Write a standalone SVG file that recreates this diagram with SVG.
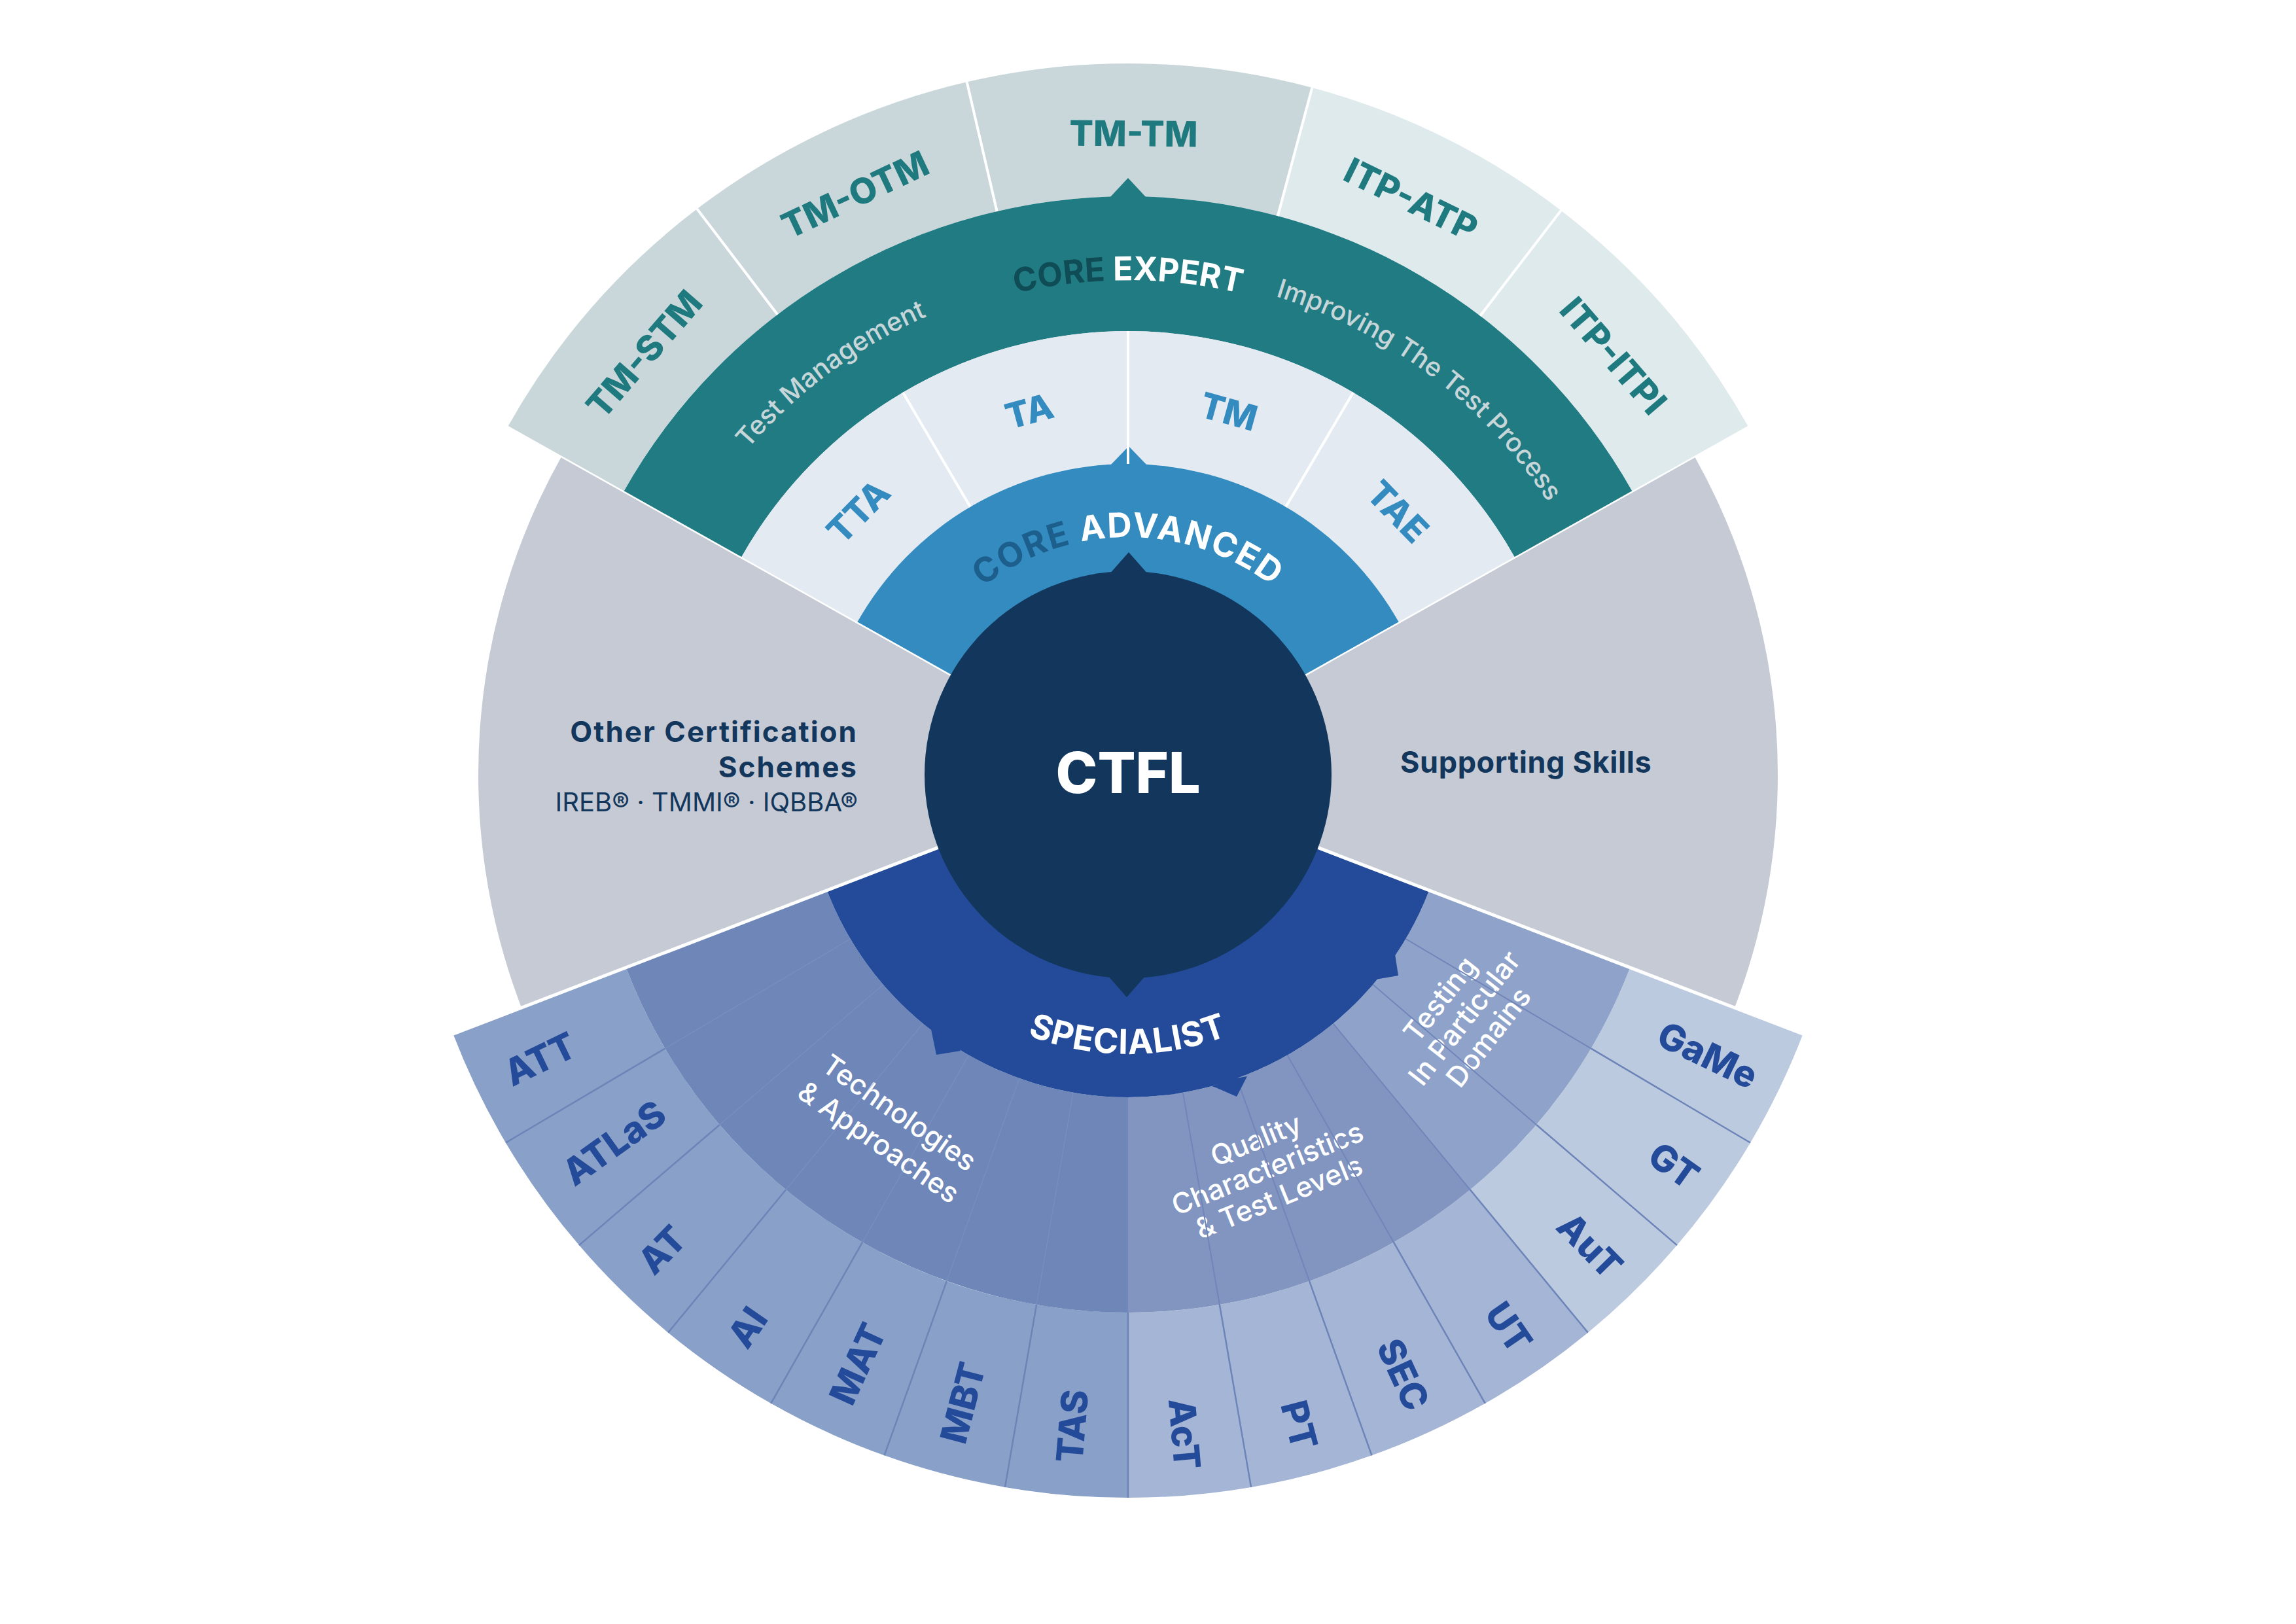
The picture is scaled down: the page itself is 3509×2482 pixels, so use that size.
<svg xmlns="http://www.w3.org/2000/svg" width="3509" height="2482" viewBox="0 0 3509 2482">
<defs>
<style>
text { font-family: Inter, "Noto Sans", "DejaVu Sans", sans-serif; }
.ttop { font-size:54px; font-weight:800; fill:#1f7a80; }
.tin { font-size:54px; font-weight:800; fill:#338bc0; }
.tbot { font-size:56px; font-weight:800; fill:#244b9a; }
.sub { font-size:40px; font-weight:500; fill:#c6d6d9; }
.region { font-size:43px; font-weight:500; fill:#ffffff; }
.sep { stroke:#ffffff; fill:none; }
.div { stroke:#6c84b7; stroke-width:2.5; fill:none; }
.faint { stroke:#8399c6; stroke-opacity:0.45; stroke-width:1.5; fill:none; }
.fdark { stroke:#7086b9; stroke-width:2; fill:none; }
.gray { fill:#c5cad4; }
.tmt { fill:#cad7da; }
.itp { fill:#deeaec; }
.light { fill:#e3eaf2; }
.tt { fill:#89a0c8; }
.qt { fill:#a5b5d5; }
.dt { fill:#bccae0; }
</style>
<path id="arcExpert" d="M 968 1184 A 756 756 0 0 1 2480 1184"/>
<path id="arcSub" d="M 959 1184 A 765 765 0 0 1 2489 1184"/>
<path id="arcAdv" d="M 1361 1184 A 363 363 0 0 1 2087 1184"/>
<path id="arcSpec" d="M 1297 1184 A 427 427 0 0 0 2151 1184"/>
</defs>
<rect width="3509" height="2482" fill="#ffffff"/>

<g id="other-certification-schemes">
<path class="gray" d="M 1724 1184 L 858.03 698.05 A 993 993 0 0 0 796.95 1539.86 Z"/>
<text x="1311" y="1134" text-anchor="end" font-size="44" font-weight="700" fill="#13375c" letter-spacing="2">Other Certification</text>
<text x="1311" y="1188" text-anchor="end" font-size="44" font-weight="700" fill="#13375c" letter-spacing="2">Schemes</text>
<text x="1311" y="1240" text-anchor="end" font-size="40" font-weight="400" fill="#13375c">IREB® · TMMI® · IQBBA®</text>
</g>
<g id="supporting-skills">
<path class="gray" d="M 1724 1184 L 2651.05 1539.86 A 993 993 0 0 0 2589.97 698.05 Z"/>
<text x="2140" y="1181" font-size="45" font-weight="700" fill="#13375c" letter-spacing="0.6">Supporting Skills</text>
</g>

<g id="expert-tiles">
<g id="TM-STM"><path class="tmt" d="M 953.09 751.39 L 776.06 652.04 A 1087 1087 0 0 1 1065.29 319.32 L 1188.30 480.80 A 884 884 0 0 0 953.09 751.39 Z"/>
<text class="ttop" transform="translate(984.38 541.06) rotate(-49)" text-anchor="middle" dy="0.36em">TM-STM</text></g>
<g id="TM-OTM"><path class="tmt" d="M 1188.30 480.80 L 1065.29 319.32 A 1087 1087 0 0 1 1477.63 125.28 L 1523.64 323.02 A 884 884 0 0 0 1188.30 480.80 Z"/>
<text class="ttop" transform="translate(1306.74 297.27) rotate(-25.2)" text-anchor="middle" dy="0.36em">TM-OTM</text></g>
<g id="TM-TM"><path class="tmt" d="M 1523.64 323.02 L 1477.63 125.28 A 1087 1087 0 0 1 2005.34 134.03 L 1952.80 330.12 A 884 884 0 0 0 1523.64 323.02 Z"/>
<text class="ttop" transform="translate(1732.55 204.04) rotate(0.5)" text-anchor="middle" dy="0.36em">TM-TM</text></g>
<g id="ITP-ATP"><path class="itp" d="M 1952.80 330.12 L 2005.34 134.03 A 1087 1087 0 0 1 2385.72 321.63 L 2262.14 482.68 A 884 884 0 0 0 1952.80 330.12 Z"/>
<text class="ttop" transform="translate(2156.68 304.69) rotate(26.2)" text-anchor="middle" dy="0.36em">ITP-ATP</text></g>
<g id="ITP-ITPI"><path class="itp" d="M 2262.14 482.68 L 2385.72 321.63 A 1087 1087 0 0 1 2671.94 652.04 L 2494.91 751.39 A 884 884 0 0 0 2262.14 482.68 Z"/>
<text class="ttop" transform="translate(2465.86 543.65) rotate(49.2)" text-anchor="middle" dy="0.36em">ITP-ITPI</text></g>
</g>

<g id="core-expert">
<path fill="#217b83" d="M 953.09 751.39 A 884 884 0 0 1 2494.91 751.39 L 2315.26 852.20 A 678 678 0 0 0 1132.74 852.20 Z"/>
<path fill="#217b83" d="M 1696 302 L 1724 272 L 1752 302 Z"/>
<text font-size="50" font-weight="700"><textPath href="#arcExpert" startOffset="50%" text-anchor="middle"><tspan fill="#0f4c55">CORE </tspan><tspan fill="#ffffff">EXPERT</tspan></textPath></text>
<text class="sub"><textPath href="#arcSub" startOffset="29.7%" text-anchor="middle">Test Management</textPath></text>
<text class="sub"><textPath href="#arcSub" startOffset="70.6%" text-anchor="middle">Improving The Test Process</textPath></text>
</g>

<g id="advanced-tiles">
<g id="TTA"><path class="light" d="M 1132.74 852.20 A 678 678 0 0 1 1379.89 599.81 L 1482.92 774.73 A 475 475 0 0 0 1309.77 951.54 Z"/>
<text class="tin" transform="translate(1311.76 781.71) rotate(-45.7)" text-anchor="middle" dy="0.36em">TTA</text></g>
<g id="TA"><path class="light" d="M 1379.89 599.81 A 678 678 0 0 1 1724 506 L 1724 709 A 475 475 0 0 0 1482.92 774.73 Z"/>
<text class="tin" transform="translate(1572.98 628.15) rotate(-15.2)" text-anchor="middle" dy="0.36em">TA</text></g>
<g id="TM"><path class="light" d="M 1724 506 A 678 678 0 0 1 2068.11 599.81 L 1965.08 774.73 A 475 475 0 0 0 1724 709 Z"/>
<text class="tin" transform="translate(1877.93 628.95) rotate(15.5)" text-anchor="middle" dy="0.36em">TM</text></g>
<g id="TAE"><path class="light" d="M 2068.11 599.81 A 678 678 0 0 1 2315.26 852.20 L 2138.23 951.54 A 475 475 0 0 0 1965.08 774.73 Z"/>
<text class="tin" transform="translate(2136.24 781.71) rotate(45.7)" text-anchor="middle" dy="0.36em">TAE</text></g>
</g>

<g id="core-advanced">
<path fill="#338bc0" d="M 1724 1184 L 1309.77 951.54 A 475 475 0 0 1 2138.23 951.54 Z"/>
<path fill="#338bc0" d="M 1697 711 L 1725 682 L 1753 711 Z"/>
<text font-size="52" font-weight="700" letter-spacing="2"><textPath href="#arcAdv" startOffset="50%" text-anchor="middle"><tspan fill="#1d5f8c">CORE </tspan><tspan fill="#ffffff">ADVANCED</tspan></textPath></text>
</g>

<g id="specialist-tiles">
<g id="ATT"><path class="tt" d="M 956.60 1478.58 L 692.39 1580.00 A 1105 1105 0 0 0 772.88 1746.49 L 1016.47 1602.43 A 822 822 0 0 1 956.60 1478.58 Z"/>
<text class="tbot" transform="translate(774.16 1643.17) rotate(-25.8)" dy="0.36em">ATT</text></g>
<g id="ATLaS"><path class="tt" d="M 1016.47 1602.43 L 772.88 1746.49 A 1105 1105 0 0 0 885.01 1903.10 L 1099.88 1718.93 A 822 822 0 0 1 1016.47 1602.43 Z"/>
<text class="tbot" transform="translate(866.18 1798.14) rotate(-35.6)" dy="0.36em">ATLaS</text></g>
<g id="AT"><path class="tt" d="M 1099.88 1718.93 L 885.01 1903.10 A 1105 1105 0 0 0 1021.13 2036.64 L 1201.14 1818.27 A 822 822 0 0 1 1099.88 1718.93 Z"/>
<text class="tbot" transform="translate(985.23 1937.15) rotate(-45.55)" dy="0.36em">AT</text></g>
<g id="AI"><path class="tt" d="M 1201.14 1818.27 L 1021.13 2036.64 A 1105 1105 0 0 0 1178.20 2144.79 L 1317.98 1898.72 A 822 822 0 0 1 1201.14 1818.27 Z"/>
<text class="tbot" transform="translate(1125.53 2052.81) rotate(-55.45)" dy="0.36em">AI</text></g>
<g id="MAT"><path class="tt" d="M 1317.98 1898.72 L 1178.20 2144.79 A 1105 1105 0 0 0 1351.50 2224.32 L 1446.90 1957.89 A 822 822 0 0 1 1317.98 1898.72 Z"/>
<text class="tbot" transform="translate(1283.96 2142.86) rotate(-65.35)" dy="0.36em">MAT</text></g>
<g id="MBT"><path class="tt" d="M 1446.90 1957.89 L 1351.50 2224.32 A 1105 1105 0 0 0 1535.92 2272.88 L 1584.09 1994.01 A 822 822 0 0 1 1446.90 1957.89 Z"/>
<text class="tbot" transform="translate(1455.40 2204.24) rotate(-75.25)" dy="0.36em">MBT</text></g>
<g id="TAS"><path class="tt" d="M 1584.09 1994.01 L 1535.92 2272.88 A 1105 1105 0 0 0 1724 2289 L 1724 2006 A 822 822 0 0 1 1584.09 1994.01 Z"/>
<text class="tbot" transform="translate(1633.88 2235.15) rotate(-85.1)" dy="0.36em">TAS</text></g>
<g id="AcT"><path class="qt" d="M 1724 2006 L 1724 2289 A 1105 1105 0 0 0 1912.08 2272.88 L 1863.91 1994.01 A 822 822 0 0 1 1724 2006 Z"/>
<text class="tbot" transform="translate(1814.97 2245.11) rotate(85.1)" text-anchor="end" dy="0.36em">AcT</text></g>
<g id="PT"><path class="qt" d="M 1863.91 1994.01 L 1912.08 2272.88 A 1105 1105 0 0 0 2096.50 2224.32 L 2001.10 1957.89 A 822 822 0 0 1 1863.91 1994.01 Z"/>
<text class="tbot" transform="translate(1995.15 2213.91) rotate(75.25)" text-anchor="end" dy="0.36em">PT</text></g>
<g id="SEC"><path class="qt" d="M 2001.10 1957.89 L 2096.50 2224.32 A 1105 1105 0 0 0 2269.80 2144.79 L 2130.02 1898.72 A 822 822 0 0 1 2001.10 1957.89 Z"/>
<text class="tbot" transform="translate(2168.21 2151.95) rotate(65.35)" text-anchor="end" dy="0.36em">SEC</text></g>
<g id="UT"><path class="qt" d="M 2130.02 1898.72 L 2269.80 2144.79 A 1105 1105 0 0 0 2426.87 2036.64 L 2246.86 1818.27 A 822 822 0 0 1 2130.02 1898.72 Z"/>
<text class="tbot" transform="translate(2328.14 2061.05) rotate(55.45)" text-anchor="end" dy="0.36em">UT</text></g>
<g id="AuT"><path class="dt" d="M 2246.86 1818.27 L 2426.87 2036.64 A 1105 1105 0 0 0 2562.99 1903.10 L 2348.12 1718.93 A 822 822 0 0 1 2246.86 1818.27 Z"/>
<text class="tbot" transform="translate(2469.78 1944.29) rotate(45.55)" text-anchor="end" dy="0.36em">AuT</text></g>
<g id="GT"><path class="dt" d="M 2348.12 1718.93 L 2562.99 1903.10 A 1105 1105 0 0 0 2675.12 1746.49 L 2431.53 1602.43 A 822 822 0 0 1 2348.12 1718.93 Z"/>
<text class="tbot" transform="translate(2589.95 1803.96) rotate(35.6)" text-anchor="end" dy="0.36em">GT</text></g>
<g id="GaMe"><path class="dt" d="M 2431.53 1602.43 L 2675.12 1746.49 A 1105 1105 0 0 0 2755.61 1580.00 L 2491.40 1478.58 A 822 822 0 0 1 2431.53 1602.43 Z"/>
<text class="tbot" transform="translate(2682.84 1647.52) rotate(25.8)" text-anchor="end" dy="0.36em">GaMe</text></g>
</g>

<g id="technologies-approaches">
<path fill="#6e86b8" d="M 1263.75 1360.68 L 956.60 1478.58 A 822 822 0 0 0 1724 2006 L 1724 1677 A 493 493 0 0 1 1263.75 1360.68 Z"/>
<text class="region" transform="translate(1359 1723) rotate(35)" text-anchor="middle"><tspan x="0" y="-12">Technologies</tspan><tspan x="0" y="43">&amp; Approaches</tspan></text>
</g>
<g id="quality-characteristics">
<path fill="#8195c0" d="M 1724 1677 L 1724 2006 A 822 822 0 0 0 2246.86 1818.27 L 2037.59 1564.41 A 493 493 0 0 1 1724 1677 Z"/>
<text class="region" font-size="42" transform="translate(1937 1786) rotate(-22)" text-anchor="middle"><tspan x="0" y="-32">Quality</tspan><tspan x="0" y="15">Characteristics</tspan><tspan x="0" y="62">&amp; Test Levels</tspan></text>
</g>
<g id="particular-domains">
<path fill="#8fa3ca" d="M 2037.59 1564.41 L 2246.86 1818.27 A 822 822 0 0 0 2491.40 1478.58 L 2184.25 1360.68 A 493 493 0 0 1 2037.59 1564.41 Z"/>
<text class="region" transform="translate(2238 1556) rotate(-52)" text-anchor="middle"><tspan x="0" y="-32">Testing</tspan><tspan x="0" y="15">In Particular</tspan><tspan x="0" y="62">Domains</tspan></text>
</g>

<g id="dividers">
<path class="faint" d="M 1299.66 1434.96 L 1016.47 1602.43 M 1349.68 1504.83 L 1099.88 1718.93 M 1410.41 1564.41 L 1201.14 1818.27 M 1480.49 1612.66 L 1317.98 1898.72 M 1557.81 1648.14 L 1446.90 1957.89 M 1640.09 1669.81 L 1584.09 1994.01"/>
<path class="fdark" d="M 1807.91 1669.81 L 1863.91 1994.01 M 1890.19 1648.14 L 2001.10 1957.89 M 1967.51 1612.66 L 2130.02 1898.72 M 2037.59 1564.41 L 2246.86 1818.27 M 2098.32 1504.83 L 2348.12 1718.93 M 2148.34 1434.96 L 2431.53 1602.43"/>
<path class="div" d="M 1016.47 1602.43 L 772.88 1746.49 M 1099.88 1718.93 L 885.01 1903.10 M 1201.14 1818.27 L 1021.13 2036.64 M 1317.98 1898.72 L 1178.20 2144.79 M 1446.90 1957.89 L 1351.50 2224.32 M 1584.09 1994.01 L 1535.92 2272.88 M 1724 2006 L 1724 2289 M 1863.91 1994.01 L 1912.08 2272.88 M 2001.10 1957.89 L 2096.50 2224.32 M 2130.02 1898.72 L 2269.80 2144.79 M 2246.86 1818.27 L 2426.87 2036.64 M 2348.12 1718.93 L 2562.99 1903.10 M 2431.53 1602.43 L 2675.12 1746.49"/>
<path class="sep" stroke-width="4" d="M 1188.30 480.80 L 1065.29 319.32 M 1523.64 323.02 L 1477.63 125.28 M 1952.80 330.12 L 2005.34 134.03 M 2262.14 482.68 L 2385.72 321.63 M 1379.89 599.81 L 1482.92 774.73 M 1724 506 L 1724 709 M 2068.11 599.81 L 1965.08 774.73"/>
</g>

<g id="specialist">
<path fill="#244b9a" d="M 1724 1184 L 1263.75 1360.68 A 493 493 0 0 0 2184.25 1360.68 Z"/>
<path fill="#244b9a" d="M 1421 1566 L 1423 1573 L 1431 1612 L 1468 1606 L 1460 1590 Z"/>
<path fill="#244b9a" d="M 1852 1660 L 1858 1662 L 1890 1676 L 1906 1645 L 1888 1648 Z"/>
<path fill="#244b9a" d="M 2098 1499 L 2102 1497 L 2137 1491 L 2132 1458 L 2136 1450 L 2112 1470 Z"/>
<text font-size="52" font-weight="700" fill="#ffffff" letter-spacing="1"><textPath href="#arcSpec" startOffset="50%" text-anchor="middle">SPECIALIST</textPath></text>
</g>

<g id="separators">
<path class="sep" stroke-width="5" d="M 1433.66 1295.45 L 688 1582 M 2014.34 1295.45 L 2760 1582"/>
<path class="sep" stroke-width="2.5" d="M 1452.79 1031.80 L 773.44 650.58 M 1995.21 1031.80 L 2674.56 650.58"/>
</g>

<g id="CTFL">
<circle cx="1724" cy="1184" r="311" fill="#13375c"/>
<path fill="#13375c" d="M 1695 878 L 1725 844 L 1755 878 Z"/>
<path fill="#13375c" d="M 1694 1492 L 1722 1524 L 1750 1492 Z"/>
<text x="1724" y="1212" text-anchor="middle" font-size="86" font-weight="800" fill="#ffffff">CTFL</text>
</g>
</svg>
